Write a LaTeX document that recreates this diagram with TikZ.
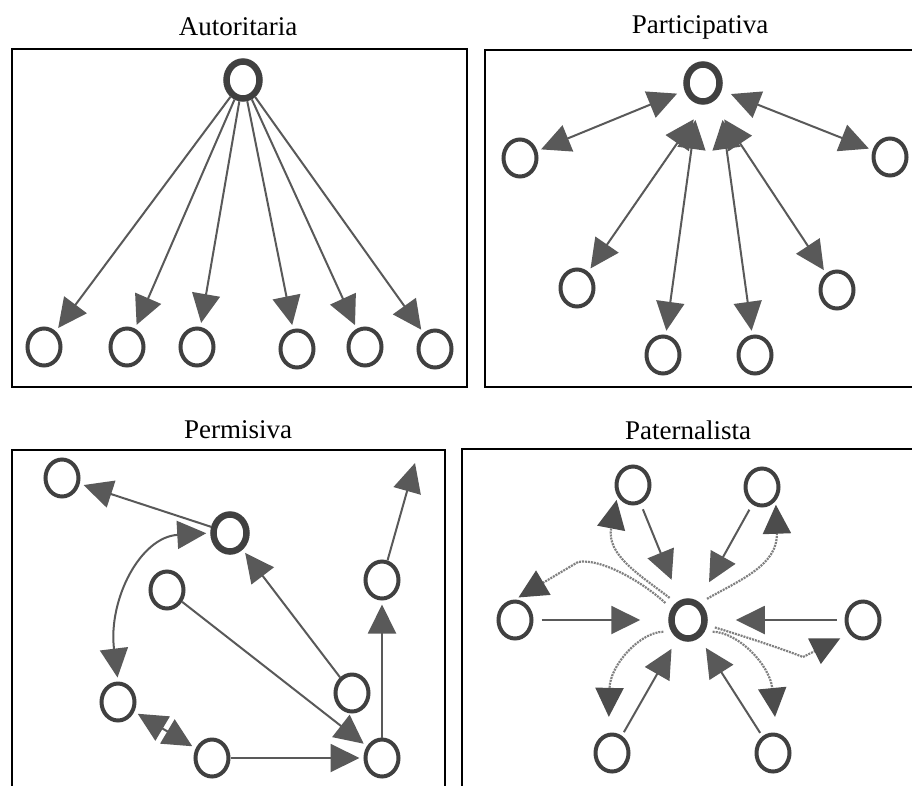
\documentclass[tikz,border=0pt]{standalone}
\usepackage{fontspec}
\setmainfont{Liberation Serif}
\usetikzlibrary{arrows.meta,shapes.geometric}

\begin{document}
\begin{tikzpicture}[x=1pt,y=1pt,yscale=-1,
  >={Triangle[length=29pt,width=28pt]},
  persona/.style={ellipse,draw=black!75,line width=4pt,minimum width=33pt,minimum height=37pt,inner sep=0pt},
  lider/.style={persona,line width=6.5pt},
  flecha/.style={->,draw=black!65,line width=2pt,shorten >=4pt},
  doble/.style={flecha,<->,shorten <=4pt},
  punteado/.style={draw=black!50,line width=2.2pt,dash pattern=on 2pt off 1pt,-{Triangle[length=29pt,width=28pt,color=black!70]},shorten >=4pt,shorten <=8pt},
  marco/.style={draw,line width=2.5pt},
  titulo/.style={font=\fontsize{27}{30}\selectfont}]
\useasboundingbox (0,0) rectangle (912,785);
\clip (0,0) rectangle (912,785);

% Text Node
\node[titulo] (tAut) at (238,27) {Autoritaria};
\node[titulo] (tPar) at (700,27) {Participativa};
\node[titulo] (tPer) at (238,430) {Permisiva};
\node[titulo] (tPat) at (688,430) {Paternalista};

%Shape: Rectangle
\draw[marco] (12,49) rectangle (467,387);
\draw[marco] (485,50) rectangle (920,387);
\draw[marco] (12,450) rectangle (445,800);
\draw[marco] (462,449) rectangle (920,800);

%Autoritaria
\node[lider] (a0) at (243,80) {};
\node[persona] (a1) at (44,347) {};
\node[persona] (a2) at (127,347) {};
\node[persona] (a3) at (197,347) {};
\node[persona] (a4) at (297,349) {};
\node[persona] (a5) at (365,347) {};
\node[persona] (a6) at (435,349) {};
\draw[flecha] (a0) -- (a1);
\draw[flecha] (a0) -- (a2);
\draw[flecha] (a0) -- (a3);
\draw[flecha] (a0) -- (a4);
\draw[flecha] (a0) -- (a5);
\draw[flecha] (a0) -- (a6);

%Participativa
\node[lider] (p0) at (703,83) {};
\node[persona] (p1) at (520,158) {};
\node[persona] (p2) at (890,157) {};
\node[persona] (p3) at (577,288) {};
\node[persona] (p4) at (837,290) {};
\node[persona] (p5) at (663,355) {};
\node[persona] (p6) at (755,355) {};
\coordinate (pL) at (696,116);
\coordinate (pR) at (722,116);
\draw[doble,shorten <=8pt] (p0) -- (p1);
\draw[doble,shorten <=10pt] (p0) -- (p2);
\draw[doble] (pL) -- (p3);
\draw[doble] (pL) -- (p5);
\draw[doble] (pR) -- (p6);
\draw[doble] (pR) -- (p4);

%Permisiva
\node[persona] (m1) at (62,478) {};
\node[lider] (m2) at (230,533) {};
\node[persona] (m3) at (167,590) {};
\node[persona] (m4) at (382,580) {};
\node[persona] (m5) at (352,693) {};
\node[persona] (m6) at (118,702) {};
\node[persona] (m7) at (212,758) {};
\node[persona] (m8) at (382,758) {};
\coordinate (mz) at (415,463);
\draw[flecha] (m2) -- (m1);
\draw[doble] (m2.west) .. controls (140,537) and (108,600) .. (m6.north);
\draw[flecha] (m3) -- (m8);
\draw[flecha] (m5) -- (m2);
\draw[doble] (m6) -- (m7);
\draw[flecha] (m7) -- (m8);
\draw[flecha] (m8) -- (m4);
\draw[flecha,shorten >=0pt] (m4) -- (mz);

%Paternalista
\node[lider] (t0) at (688,620) {};
\node[persona] (t1) at (633,485) {};
\node[persona] (t2) at (762,487) {};
\node[persona] (t3) at (515,620) {};
\node[persona] (t4) at (863,620) {};
\node[persona] (t5) at (612,753) {};
\node[persona] (t6) at (773,753) {};
\draw[flecha,shorten >=22pt,shorten <=6pt] (t1) -- (t0);
\draw[flecha,shorten >=22pt,shorten <=6pt] (t2) -- (t0);
\draw[flecha,shorten >=28pt,shorten <=8pt] (t3) -- (t0);
\draw[flecha,shorten >=28pt,shorten <=8pt] (t4) -- (t0);
\draw[flecha,shorten >=12pt,shorten <=4pt] (t5) -- (t0);
\draw[flecha,shorten >=12pt,shorten <=4pt] (t6) -- (t0);
%dotted curves
\draw[punteado] (t0.125) .. controls (640,575) and (606,555) .. (t1.215);
\draw[punteado] (t0.55) .. controls (740,580) and (778,565) .. (t2.315);
\draw[punteado] (t0.145) .. controls (640,580) and (600,558) .. (578,562) -- (t3.north);
\draw[punteado,shorten >=16pt] (t0.215) .. controls (640,632) and (610,665) .. (t5.100);
\draw[punteado,shorten >=16pt] (t0.325) .. controls (738,632) and (770,665) .. (t6.80);
\draw[punteado,shorten >=10pt] (t0.-15) .. controls (740,635) and (780,648) .. (803,657) -- (t4.225);

\end{tikzpicture}
\end{document}
